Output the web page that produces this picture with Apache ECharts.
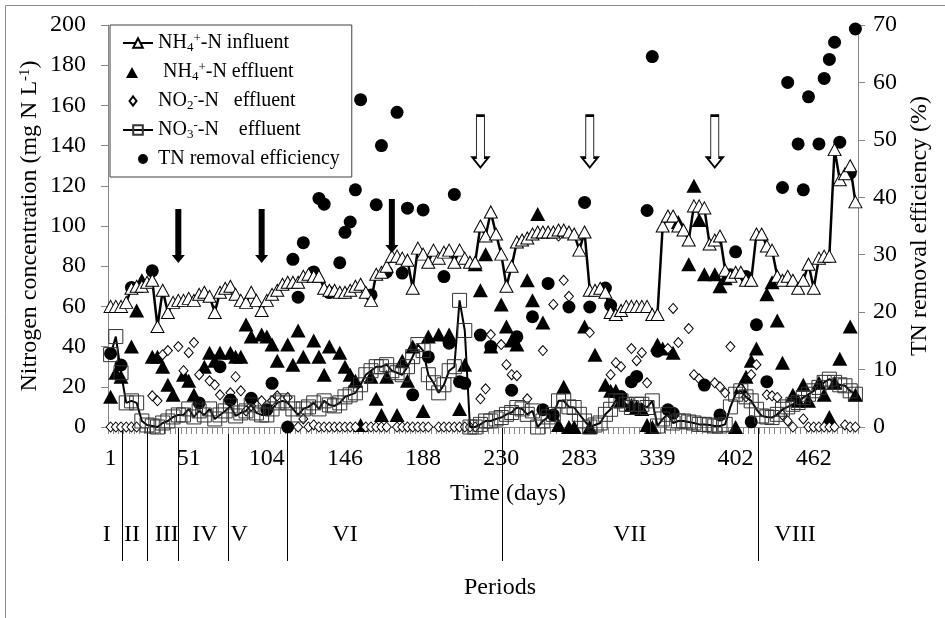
<!DOCTYPE html>
<html><head><meta charset="utf-8">
<script src="https://cdn.jsdelivr.net/npm/echarts@6/dist/echarts.min.js"></script>
<style>html,body{margin:0;padding:0;background:#fff}#c{width:945px;height:618px}</style>
</head><body><div id="c"></div>
<script>
// ---- data (one entry per sampling, 144 samplings) ----
const tickLabels = ['1','51','104','146','188','230','283','339','402','462'];

const nh4Influent = [
 60,60,60,62,69,70,70,72,73,50,
 68,57,62,63,63,64,63,66,67,65,
 57,67,69,70,66,63,62,67,63,58,
 63,66,68,71,72,72,72,75,76,75,
 75,69,68,68,67,67,68,70,71,67,
 63,76,77,80,85,85,84,83,69,89,
 86,82,88,84,87,88,82,88,84,82,
 82,100,95,107,96,86,70,80,92,93,
 94,96,97,97,97,97,98,98,97,96,
 88,97,68,68,69,67,57,56,58,60,
 60,60,60,60,56,56,100,105,105,100,
 98,93,110,110,109,91,93,95,78,75,
 77,77,73,73,96,96,90,88,75,73,
 75,73,69,73,81,69,84,85,85,138,
 123,126,130,112];

const nh4Effluent = [
 15,27,25,null,40,58,73,null,35,35,
 30,21,16,null,26,23,16,null,30,37,
 33,37,null,37,35,35,51,45,null,46,
 45,41,33,null,41,31,48,35,null,43,
 35,26,40,null,37,30,26,23,1,null,
 25,14,6,25,null,6,33,23,40,null,
 8,45,null,46,null,46,null,9,31,null,
 81,68,86,40,null,61,50,43,41,null,
 73,63,106,52,null,null,1,20,0,0,
 null,50,0,36,null,21,18,18,13,null,
 11,10,9,1,0,41,39,null,37,102,
 null,81,120,103,76,null,76,70,74,null,
 0,20,25,33,39,null,66,72,53,32,
 null,16,13,21,13,null,22,16,5,22,
 34,null,50,16];

const no2Effluent = [
 0,0,0,0,0,0,null,null,15.5,13,
 36,38,null,40,28,37,42,26,null,23,
 21,16,null,17,25,18,8,10.5,null,13,
 null,13,15.5,null,14.7,null,0,4,0,1,
 0,0,0,0,0,0,0,0,null,0,
 0,0,0,0,null,0,0,0,0,0,
 0,0,null,0,0,0,0,0,0,0,
 0,14,19,46,null,41,31,26,25.5,null,
 14,null,null,38,null,61,95,73,65,null,
 null,null,47,null,null,null,26,32,30,null,
 39,33,37,22,null,null,null,39,59,42,
 null,49,26,24,21,null,22,20,17,40,
 null,19,15,26,31,null,16,15.5,14.7,6,
 3,0,null,4,0,0,0,0,0,0,
 null,1,0,0];

const no3Effluent = [
 36,45,27,12,13,12,3,1,0.5,0,
 2,3,5,6,6,9,5,8,6,9,
 4,6,8,10.5,5.5,7,8,11,7,6,
 6,9,12,13,12,9,6,9,10,12,
 9,13,11,10.5,12,15,16,17,21,26,
 28,30,30,31,28,27,26,30,35,41,
 38,26,22,17,21,28,30,63,48,0,
 0,1.3,3,3,4,4.7,6.3,7.2,9.7,9,
 6.3,8,0,3,5,6.3,13,13,10,9.7,
 6.3,3,0,1,2,6.3,8.8,13,13,11.3,
 9.7,11.3,11.3,9.7,13,0.5,4,6.3,2,3,
 3,2.5,2,1.3,1.3,1,0.5,0.5,1.3,10,
 16.3,18,15,13,8.8,5.5,5,4.7,6.3,8.8,
 10,11.3,12.2,14.7,16.3,18,19.7,22.2,23.8,22.2,
 21,20.5,18,16.3];

const tnRemoval = [
 12.8,null,10.8,null,24.3,null,null,null,27.2,null,
 null,null,null,null,null,null,null,4.2,null,null,
 null,10.5,null,4.7,null,null,null,5.0,null,null,
 3.0,7.6,null,null,0,29.2,22.6,32.1,null,27,
 39.8,38.8,23.4,null,28.6,33.9,35.7,41.3,57,null,
 23,38.7,49,27,null,54.8,26.8,38.1,5.6,null,
 37.8,12.2,null,null,26.2,14.6,40.5,7.9,7.6,null,
 null,16,null,14,null,null,null,6.4,15.7,null,
 null,19.2,null,3,25,2.1,null,null,20.9,null,
 null,39.1,20.9,null,null,24.2,21.2,null,5.3,null,
 7.9,8.8,null,37.7,64.5,13.2,null,3,2.4,null,
 null,null,null,null,7.3,null,null,2.1,null,26.5,
 30.5,null,26.2,0.9,17.8,null,7.9,null,null,41.7,
 60,null,49.3,41.3,57.5,null,49.3,60.7,64,67,
 49.6,null,44.2,69.3];

const seriesNames = ['NH4+-N influent','NH4+-N effluent','NO2--N effluent','NO3--N effluent','TN removal efficiency'];
const legendLabels = [
 'NH{sub|4}{sup|+}-N influent',
 ' NH{sub|4}{sup|+}-N effluent',
 'NO{sub|2}{sup|-}-N   effluent',
 'NO{sub|3}{sup|-}-N    effluent',
 'TN removal efficiency'];

const periodLabels = ['I','II','III','IV','V','VI','VII','VIII'];
const periodLabelAt = [-0.76, 4.1, 10.8, 18.1, 24.7, 45, 99.7, 131.4];   // in sampling units
const periodBoundsAt = [2.13, 6.93, 13.0, 22.6, 33.8, 75.2, 124.3];      // in sampling units

const solidArrowAt = [13, 29, 54];
const solidArrowVal = [95, 95, 100];
const hollowArrowAt = [71, 92, 116];
const hollowArrowVal = [142, 142, 142];

// ---- chart ----
const FONT = 'Liberation Serif';
const SOLID_ARROW = 'path://M3.5,0L9.5,0L9.5,46L13,46L6.5,54L0,46L3.5,46Z';
const HOLLOW_ARROW = 'path://M4,0L12,0L12,42L16,42L8,52L0,42L4,42Z';
// legend icons for marker-only series, drawn inside the full 30x12 icon box
const ICON_TRI = 'path://M0,0M30,12M3,12L9,1L15,12Z';
const ICON_DIA = 'path://M0,0M30,12M6.5,6L10,1.5L13.5,6L10,10.5Z';
const ICON_DOT = 'path://M0,0M30,12M15,6A5,5,0,1,1,25,6A5,5,0,1,1,15,6Z';
const AXIS_GREY = '#868686';

const categories = nh4Influent.map((_, i) => i % 15 === 0 ? tickLabels[i / 15] : 's' + (i + 1));
const pts = arr => arr.map((v, i) => v === null ? null : [i, v]).filter(p => p);

const chart = echarts.init(document.getElementById('c'));

const markData = solidArrowAt.map((x, k) => ({
  coord: [categories[x], solidArrowVal[k]], symbol: SOLID_ARROW, symbolSize: [13, 54],
  itemStyle: {color: '#000', borderWidth: 0, opacity: 1}
})).concat(hollowArrowAt.map((x, k) => ({
  coord: [categories[x], hollowArrowVal[k]], symbol: HOLLOW_ARROW, symbolSize: [16, 52],
  itemStyle: {color: '#fff', borderColor: '#000', borderWidth: 1.5, opacity: 1}
})));

const richSmall = {
  sub: {fontSize: 13, fontFamily: FONT, color: '#000', lineHeight: 22, verticalAlign: 'bottom'},
  sup: {fontSize: 13, fontFamily: FONT, color: '#000', lineHeight: 22, verticalAlign: 'top'}
};

const option = {
  animation: false,
  backgroundColor: '#fff',
  textStyle: {fontFamily: FONT},
  grid: {left: 108, right: 87, top: 25, bottom: 191, containLabel: false, outerBoundsMode: 'none'},
  legend: {
    orient: 'vertical', left: 110, top: 25,
    padding: [7, 12, 7, 12], itemGap: 7, itemWidth: 30, itemHeight: 12,
    symbolKeepAspect: true,
    backgroundColor: '#fff', borderColor: '#404040', borderWidth: 1, borderRadius: 0,
    selectedMode: false,
    data: [
      {name: seriesNames[0]},
      {name: seriesNames[1], icon: ICON_TRI},
      {name: seriesNames[2], icon: ICON_DIA},
      {name: seriesNames[3]},
      {name: seriesNames[4], icon: ICON_DOT}
    ],
    formatter: name => legendLabels[seriesNames.indexOf(name)],
    textStyle: {fontSize: 20, fontFamily: FONT, color: '#000', lineHeight: 22, rich: richSmall}
  },
  xAxis: {
    type: 'category', data: categories, boundaryGap: true,
    axisLine: {show: true, lineStyle: {color: AXIS_GREY, width: 1}},
    axisTick: {show: true, interval: 0, length: 7, inside: false, alignWithLabel: false, lineStyle: {color: AXIS_GREY}},
    axisLabel: {interval: 14, margin: 20, fontSize: 24, fontFamily: FONT, color: '#000'},
    splitLine: {show: false}
  },
  yAxis: [{
    type: 'value', min: 0, max: 200, interval: 20, position: 'left',
    name: 'Nitrogen concentration (mg N L{sup|-1})', nameLocation: 'middle', nameGap: 66, nameMoveOverlap: false,
    nameTextStyle: {fontSize: 24, fontFamily: FONT, color: '#000',
      rich: {sup: {fontSize: 15, fontFamily: FONT, color: '#000', verticalAlign: 'top'}}},
    axisLine: {show: true, lineStyle: {color: AXIS_GREY}},
    axisTick: {show: true, length: 7, lineStyle: {color: AXIS_GREY}},
    axisLabel: {margin: 22, fontSize: 24, fontFamily: FONT, color: '#000'},
    splitLine: {show: false}
  }, {
    type: 'value', min: 0, max: 70, interval: 10, position: 'right',
    name: 'TN removal efficiency (%)', nameLocation: 'middle', nameGap: 50, nameRotate: 90, nameMoveOverlap: false,
    nameTextStyle: {fontSize: 24, fontFamily: FONT, color: '#000'},
    axisLine: {show: true, lineStyle: {color: AXIS_GREY}},
    axisTick: {show: true, length: 7, lineStyle: {color: AXIS_GREY}},
    axisLabel: {margin: 15, fontSize: 24, fontFamily: FONT, color: '#000'},
    splitLine: {show: false}
  }],
  series: [{
    name: seriesNames[0], type: 'line', data: nh4Influent, yAxisIndex: 0,
    symbol: 'triangle', symbolSize: [13, 12], showAllSymbol: true, silent: true,
    itemStyle: {color: '#fff', borderColor: '#000', borderWidth: 1, opacity: 1},
    lineStyle: {color: '#000', width: 2.5},
    markPoint: {silent: true, label: {show: false}, data: markData}
  }, {
    name: seriesNames[1], type: 'scatter', data: pts(nh4Effluent), yAxisIndex: 0,
    symbol: 'triangle', symbolSize: [15, 14], silent: true,
    itemStyle: {color: '#000', opacity: 1}
  }, {
    name: seriesNames[2], type: 'scatter', data: pts(no2Effluent), yAxisIndex: 0,
    symbol: 'diamond', symbolSize: [9, 10], silent: true,
    itemStyle: {color: '#fff', borderColor: '#000', borderWidth: 1, opacity: 1}
  }, {
    name: seriesNames[3], type: 'line', data: no3Effluent, yAxisIndex: 0,
    symbol: 'rect', symbolSize: 14, showAllSymbol: true, silent: true,
    itemStyle: {color: 'rgba(255,255,255,0)', borderColor: '#333', borderWidth: 1, opacity: 1},
    lineStyle: {color: '#000', width: 2}
  }, {
    name: seriesNames[4], type: 'scatter', data: pts(tnRemoval), yAxisIndex: 1,
    symbol: 'circle', symbolSize: 13, silent: true,
    itemStyle: {color: '#000', opacity: 1}
  }]
};

chart.setOption(option);

// ---- period annotations below the time axis ----
const p0 = chart.convertToPixel({xAxisIndex: 0}, categories[0]);
const p1 = chart.convertToPixel({xAxisIndex: 0}, categories[1]);
const step = p1 - p0;
const xAt = f => p0 + f * step;
const yBase = chart.convertToPixel({yAxisIndex: 0}, 0);
const txt = (x, y, t) => ({type: 'text', x: x, y: y, silent: true,
  style: {text: t, fontSize: 24, fontFamily: FONT, fill: '#000',
          align: 'center', verticalAlign: 'middle', textAlign: 'center', textVerticalAlign: 'middle'}});

const graphics = [{
  type: 'rect', silent: true, shape: {x: 5.5, y: 5.5, width: 1200, height: 1200},
  style: {fill: 'none', stroke: '#8c8c8c', lineWidth: 1}
}];
periodBoundsAt.forEach(b => {
  const x = Math.round(xAt(b)) + 0.5;
  graphics.push({type: 'line', silent: true, shape: {x1: x, y1: yBase, x2: x, y2: yBase + 134},
    style: {stroke: '#000', lineWidth: 1}});
});
periodLabels.forEach((t, k) => graphics.push(txt(xAt(periodLabelAt[k]), yBase + 108, t)));
graphics.push(txt(508, 494, 'Time (days)'));
graphics.push(txt(500, 588, 'Periods'));

chart.setOption({graphic: graphics});
</script>
</body></html>
